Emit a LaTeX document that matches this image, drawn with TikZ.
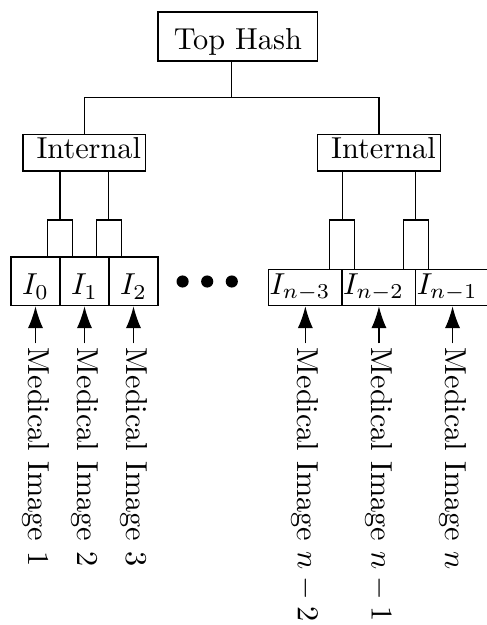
\documentclass[tikz,border=0pt]{standalone}
\usetikzlibrary{arrows.meta}
\tikzset{
  tophash/.style={draw, minimum width=52.7pt, minimum height=16.17pt, inner ysep=0.5pt, text height=10.4pt, text depth=1.94pt},
  internal/.style={draw, minimum height=12pt, text width=37.4pt, align=right, inner xsep=1.55pt, inner ysep=0.5pt, text height=6.94pt, text depth=2.9pt},
  pairbox/.style={draw, minimum width=8.1pt, inner sep=0pt},
  leafL/.style={draw, minimum width=16.17pt, minimum height=16.07pt, inner sep=0pt, text height=10.5pt, text depth=1.5pt},
  leafR/.style={draw, text width=23.6pt, align=left, inner xsep=0.3pt, inner ysep=0pt, minimum height=11.9pt, text height=6.83pt, text depth=2.67pt},
  dotnode/.style={circle, fill, inner sep=0pt, minimum size=4pt},
  feed/.style={-{Latex[length=7.2pt,width=5pt]}},
  lbl/.style={rotate=-90, anchor=west, inner xsep=1.3pt, inner ysep=0pt}
}
\begin{document}
\begin{tikzpicture}[x=0.33pt, y=-0.33pt]
\clip (0,0) rectangle (487,625);
% top
\node[tophash] (top) at (237.85,36.5) {Top Hash};
\node[internal] (lint) at (84.35,152.85) {Internal};
\node[internal] (rint) at (379,152.85) {Internal};
\coordinate (j) at (231.8,97.7);
\draw (j) -- (j |- top.south);
\draw (lint.north) |- (j) -| (rint.north);
% leaves left
\node[leafL] (l0) at (35.5,281.35) {$I_0$};
\node[leafL] (l1) at (84.5,281.35) {$I_1$};
\node[leafL] (l2) at (133.5,281.35) {$I_2$};
\node[pairbox, minimum height=12.2pt] (p0) at (60,238.5) {};
\node[pairbox, minimum height=12.2pt] (p1) at (108.85,238.5) {};
\draw (p0.north) -- (p0.north |- lint.south);
\draw (p1.north) -- (p1.north |- lint.south);
% dots
\node[dotnode] (d1) at (182.6,281.5) {};
\node[dotnode] (d2) at (207.2,281.5) {};
\node[dotnode] (d3) at (231.8,281.5) {};
% leaves right
\node[leafR] (r0) at (305.35,287.7) {$I_{n-3}$};
\node[leafR] (r1) at (378.95,287.7) {$I_{n-2}$};
\node[leafR] (r2) at (452.55,287.7) {$I_{n-1}$};
\node[pairbox, minimum height=16.4pt] (q0) at (342.15,244.85) {};
\node[pairbox, minimum height=16.4pt] (q1) at (415.85,244.85) {};
\draw (q0.north) -- (q0.north |- rint.south);
\draw (q1.north) -- (q1.north |- rint.south);
% inputs
\coordinate (t0) at (35.5,343.3);
\coordinate (t1) at (84.5,343.3);
\coordinate (t2) at (133.5,343.3);
\coordinate (t3) at (305.35,343.3);
\coordinate (t4) at (378.95,343.3);
\coordinate (t5) at (452.55,343.3);
\draw[feed] (t0) -- (l0.south);
\draw[feed] (t1) -- (l1.south);
\draw[feed] (t2) -- (l2.south);
\draw[feed] (t3) -- (r0.south);
\draw[feed] (t4) -- (r1.south);
\draw[feed] (t5) -- (r2.south);
\node[lbl] (m0) at (t0) {Medical Image 1};
\node[lbl] (m1) at (t1) {Medical Image 2};
\node[lbl] (m2) at (t2) {Medical Image 3};
\node[lbl] (m3) at (t3) {Medical Image $n-2$};
\node[lbl] (m4) at (t4) {Medical Image $n-1$};
\node[lbl] (m5) at (t5) {Medical Image $n$};
\end{tikzpicture}
\end{document}
